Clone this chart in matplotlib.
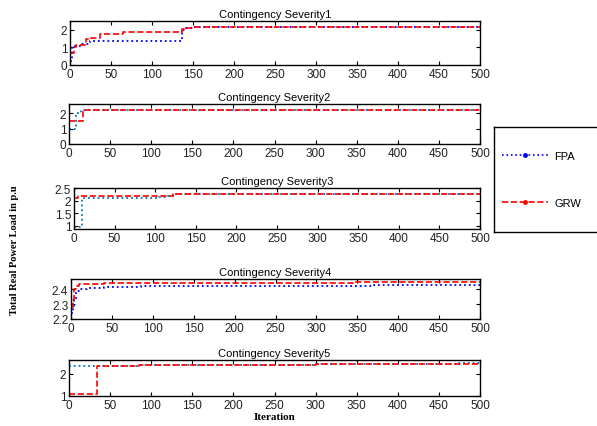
import matplotlib
matplotlib.use("Agg")
import matplotlib.pyplot as plt
from matplotlib.lines import Line2D

plt.rcParams['font.family'] = ['Liberation Sans', 'DejaVu Sans']

# step data: (iteration where value starts, value)
fpa_x = [
    [0, 3, 15, 24, 136, 140, 150, 500],
    [0, 8, 15, 500],
    [0, 10, 105, 115, 122, 500],
    [0, 2, 4, 6, 10, 20, 40, 85, 170, 370, 500],
    [0, 85, 300, 475, 500],
]
fpa_y = [
    [0.2, 1.1, 1.2, 1.35, 2.0, 2.1, 2.15, 2.15],
    [1.0, 2.0, 2.2, 2.2],
    [0.95, 2.1, 2.15, 2.2, 2.25, 2.25],
    [2.24, 2.28, 2.33, 2.39, 2.40, 2.41, 2.415, 2.42, 2.425, 2.43, 2.43],
    [2.35, 2.4, 2.42, 2.45, 2.45],
]
grw_x = [
    [0, 5, 7, 20, 25, 37, 65, 136, 142, 152, 500],
    [0, 17, 500],
    [0, 5, 122, 500],
    [0, 2, 4, 6, 10, 40, 75, 345, 500],
    [0, 34, 85, 300, 500],
]
grw_y = [
    [0.7, 1.05, 1.15, 1.5, 1.55, 1.75, 1.9, 2.05, 2.1, 2.15, 2.15],
    [1.5, 2.2, 2.2],
    [2.1, 2.2, 2.25, 2.25],
    [2.28, 2.33, 2.40, 2.42, 2.435, 2.44, 2.445, 2.45, 2.45],
    [1.1, 2.35, 2.4, 2.42, 2.42],
]
titles = ["Contingency Severity1", "Contingency Severity2", "Contingency Severity3",
          "Contingency Severity4", "Contingency Severity5"]
ylims = [(0, 2.5), (0, 2.6), (0.88, 2.5), (2.2, 2.47), (1, 2.6)]
yticks = [[0, 1, 2], [0, 1, 2], [1, 1.5, 2, 2.5], [2.2, 2.3, 2.4], [1, 2]]
blues = ['blue', '#0072BD', '#0072BD', 'blue', '#0072BD']

W, H = 597, 427
# axes boxes in pixels: left, top, right, bottom
boxes = [(70, 22, 480, 66), (69, 105, 480, 145), (74, 189, 480, 230),
         (71, 280, 480, 320), (69, 361, 480, 397)]

fig = plt.figure(figsize=(W / 100, H / 100), dpi=100)

for i in range(5):
    l, t, r, b = boxes[i]
    ax = fig.add_axes([l / W, 1 - b / H, (r - l) / W, (b - t) / H])
    ax.step(fpa_x[i], fpa_y[i], where='post', color=blues[i], linestyle=':', linewidth=1.3)
    ax.step(grw_x[i], grw_y[i], where='post', color='red', linestyle='--', linewidth=1.2)
    ax.set_xlim(0, 500)
    ax.set_ylim(*ylims[i])
    ax.set_xticks(range(0, 501, 50))
    ax.set_yticks(yticks[i])
    ax.set_yticklabels([f"{v:g}" for v in yticks[i]])
    ax.tick_params(direction='in', top=True, right=True, length=3, labelsize=8.5, pad=2,
                   labelcolor='#222222')
    ax.set_title(titles[i], fontsize=8, pad=3)
    for s in ax.spines.values():
        s.set_linewidth(1.0)

fig.text(15 / W, 1 - 250 / H, "Total Real Power Load in p.u", rotation=90,
         ha='center', va='center', fontsize=7.5, fontweight='bold', family='Liberation Serif')
fig.text(275 / W, 1 - 418 / H, "Iteration", ha='center', va='center',
         fontsize=8, fontweight='bold', family='Liberation Serif')

# legend box, running off the right edge like the original
lax = fig.add_axes([494 / W, 1 - 233 / H, 130 / W, 105 / H])
lax.set_xticks([])
lax.set_yticks([])
for s in lax.spines.values():
    s.set_linewidth(1.0)
    s.set_color('black')

handles = [Line2D([], [], color='blue', linestyle=':', marker='.', markersize=5, linewidth=1.2),
           Line2D([], [], color='red', linestyle='--', marker='.', markersize=5, linewidth=1.2)]
lax.legend(handles, ['FPA', 'GRW'], loc='center left', bbox_to_anchor=(0.06, 0.5),
           fontsize=8, frameon=False, numpoints=1, handlelength=4.2,
           handletextpad=0.5, labelspacing=3.3, borderpad=0, borderaxespad=0)

fig.savefig("out.png", dpi=100)
